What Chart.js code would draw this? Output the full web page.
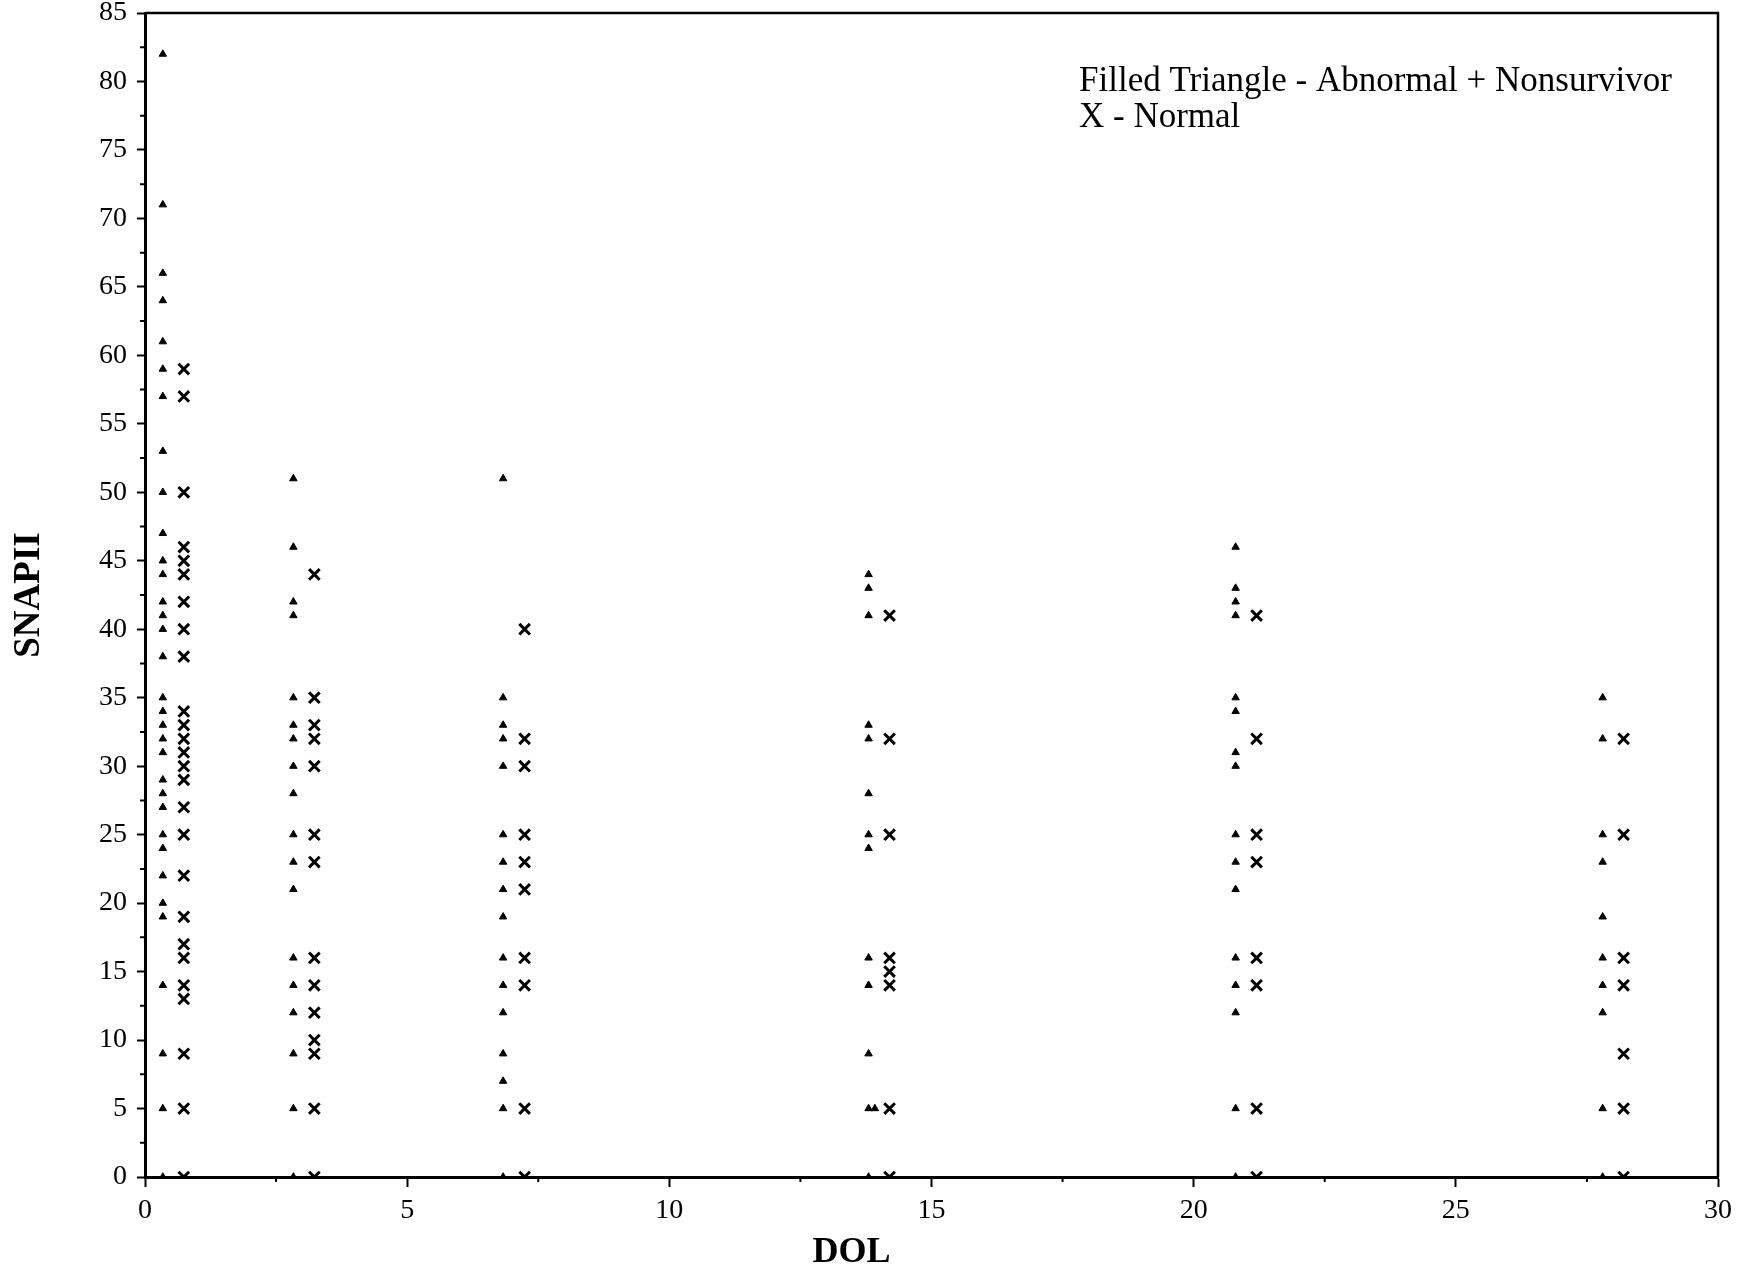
<!DOCTYPE html>
<html>
<head>
<meta charset="utf-8">
<script src="https://cdn.jsdelivr.net/npm/chart.js@4/dist/chart.umd.min.js"></script>
<style>
html,body{margin:0;padding:0;background:#fff;}
#wrap{width:1743px;height:1271px;}
</style>
</head>
<body>
<div id="wrap"><canvas id="c" width="1743" height="1271"></canvas></div>
<script>
// Column positions (DOL) for each marker type
const dolTriangle = [0.34, 2.83, 6.83, 13.8, 20.8, 27.8];
const dolCross = [0.74, 3.23, 7.24, 14.2, 21.2, 28.2];

// SNAPII values per column - Abnormal + Nonsurvivor (filled triangle)
const snapTriangle = [
  [82,71,66,64,61,59,57,53,50,47,45,44,42,41,40,38,35,34,33,32,31,29,28,27,25,24,22,20,19,14,9,5,0],
  [51,46,42,41,35,33,32,30,28,25,23,21,16,14,12,9,5,0],
  [51,35,33,32,30,25,23,21,19,16,14,12,9,7,5,0],
  [44,43,41,33,32,28,25,24,16,14,9,5,0],
  [46,43,42,41,35,34,31,30,25,23,21,16,14,12,5,0],
  [35,32,25,23,19,16,14,12,5,0]
];
// an extra, slightly offset triangle near DOL 14
const extraTriangleDol = [13.92];
const extraTriangleSnap = [5];

// SNAPII values per column - Normal (X)
const snapCross = [
  [59,57,50,46,45,44,42,40,38,34,33,32,31,30,29,27,25,22,19,17,16,14,13,9,5,0],
  [44,35,33,32,30,25,23,16,14,12,10,9,5,0],
  [40,32,30,25,23,21,16,14,5,0],
  [41,32,25,16,15,14,5,0],
  [41,32,25,23,16,14,5,0],
  [32,25,16,14,9,5,0]
];

const xTicks = [0,5,10,15,20,25,30];
const yTicks = [0,5,10,15,20,25,30,35,40,45,50,55,60,65,70,75,80,85];
const legendLines = ['Filled Triangle - Abnormal + Nonsurvivor', 'X - Normal'];
const xTitle = 'DOL';
const yTitle = 'SNAPII';

function buildPoints(dols, vals) {
  const pts = [];
  vals.forEach((col, i) => col.forEach(v => pts.push({x: dols[i], y: v})));
  return pts;
}
const triPts = buildPoints(dolTriangle, snapTriangle);
extraTriangleDol.forEach((d, i) => triPts.push({x: d, y: extraTriangleSnap[i]}));
const crossPts = buildPoints(dolCross, snapCross);

const SERIF = '"Liberation Serif", "Times New Roman", Times, serif';

const extrasPlugin = {
  id: 'extras',
  afterLayout(chart) {
    // the DOL title sits left of the plot centre in the reference
    const xs = chart.scales.x;
    if (xs && !xs._titleShifted) {
      const orig = xs.drawTitle;
      xs.drawTitle = function () {
        this.ctx.save();
        this.ctx.translate(-80, 0);
        orig.call(this);
        this.ctx.restore();
      };
      xs._titleShifted = true;
    }
  },
  afterDraw(chart) {
    const ctx = chart.ctx;
    const ca = chart.chartArea;
    const xs = chart.scales.x, ys = chart.scales.y;
    ctx.save();
    ctx.strokeStyle = '#000';
    // frame top and right
    ctx.lineWidth = 2.5;
    ctx.beginPath();
    ctx.moveTo(ca.left, ca.top);
    ctx.lineTo(ca.right, ca.top);
    ctx.lineTo(ca.right, ca.bottom);
    ctx.stroke();
    // minor ticks
    ctx.lineWidth = 2;
    ctx.beginPath();
    for (let v = 2.5; v < 30; v += 5) {
      const px = xs.getPixelForValue(v);
      ctx.moveTo(px, ca.bottom);
      ctx.lineTo(px, ca.bottom + 5);
    }
    for (let v = 2.5; v < 85; v += 5) {
      const py = ys.getPixelForValue(v);
      ctx.moveTo(ca.left, py);
      ctx.lineTo(ca.left - 5, py);
    }
    ctx.stroke();
    // legend text
    ctx.fillStyle = '#000';
    ctx.font = '35px ' + SERIF;
    ctx.textAlign = 'left';
    ctx.textBaseline = 'alphabetic';
    legendLines.forEach((t, i) => ctx.fillText(t, 1079, 91 + i * 36));
    ctx.restore();
  }
};

new Chart(document.getElementById('c'), {
  type: 'scatter',
  data: {
    datasets: [
      {
        label: 'Abnormal + Nonsurvivor',
        data: triPts,
        pointStyle: 'triangle',
        pointRadius: 4.3,
        pointBackgroundColor: '#000',
        pointBorderColor: '#000',
        pointBorderWidth: 1,
        showLine: false
      },
      {
        label: 'Normal',
        data: crossPts,
        pointStyle: 'crossRot',
        pointRadius: 7.5,
        pointBorderColor: '#000',
        pointBackgroundColor: '#000',
        pointBorderWidth: 3,
        showLine: false
      }
    ]
  },
  options: {
    responsive: false,
    animation: false,
    devicePixelRatio: 1,
    layout: {padding: {top: 13, right: 25, left: 0, bottom: 0}},
    plugins: {legend: {display: false}, tooltip: {enabled: false}},
    scales: {
      x: {
        type: 'linear', min: 0, max: 30,
        afterBuildTicks(s) { s.ticks = xTicks.map(v => ({value: v})); },
        afterFit(s) { s.height = 94; s.paddingLeft = 0; s.paddingRight = 0; },
        ticks: {font: {family: SERIF, size: 28}, color: '#000', padding: 7, maxRotation: 0, autoSkip: false},
        grid: {drawOnChartArea: false, drawTicks: true, tickLength: 10, tickWidth: 2, tickColor: '#000', color: '#000'},
        border: {display: true, color: '#000', width: 3},
        title: {display: true, text: xTitle, color: '#000', font: {family: SERIF, size: 36, weight: 'bold', lineHeight: 1}, padding: {top: 0, bottom: 0}}
      },
      y: {
        type: 'linear', min: 0, max: 85,
        afterBuildTicks(s) { s.ticks = yTicks.map(v => ({value: v})); },
        afterFit(s) { s.width = 145; s.paddingTop = 0; s.paddingBottom = 0; },
        ticks: {font: {family: SERIF, size: 28}, color: '#000', padding: 10, autoSkip: false},
        grid: {drawOnChartArea: false, drawTicks: true, tickLength: 8, tickWidth: 2, tickColor: '#000', color: '#000'},
        border: {display: true, color: '#000', width: 3},
        title: {display: true, text: yTitle, color: '#000', font: {family: SERIF, size: 37, weight: 'bold', lineHeight: 1}, padding: {top: 11, bottom: 0}}
      }
    }
  },
  plugins: [extrasPlugin]
});
</script>
</body>
</html>
